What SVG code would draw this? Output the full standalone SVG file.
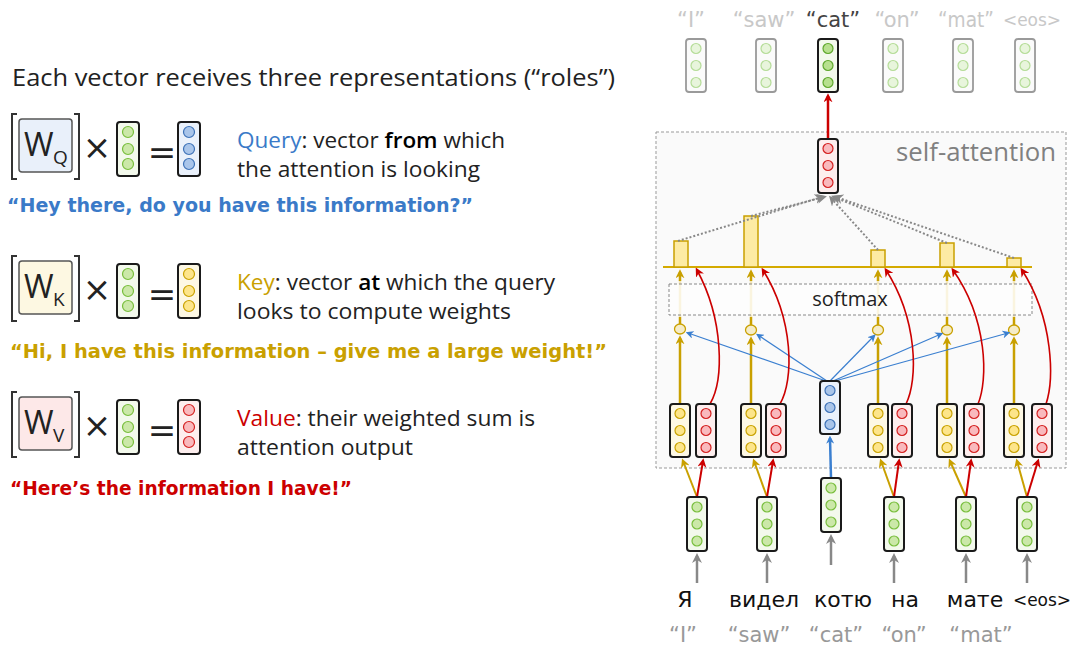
<svg xmlns="http://www.w3.org/2000/svg" width="1080" height="652" viewBox="0 0 1080 652">
<style>
.v rect{stroke:#1a1a1a;stroke-width:2}
.g rect{fill:#f3f9ec}.g circle{fill:#cbe8a8;stroke:#78be3c;stroke-width:1.2}
.y rect{fill:#fdf8e4}.y circle{fill:#fde58a;stroke:#c9a200;stroke-width:1.2}
.r rect{fill:#fdeeee}.r circle{fill:#f9b9bd;stroke:#d42020;stroke-width:1.2}
.b rect{fill:#eaf1fb}.b circle{fill:#a9c5ea;stroke:#3d72b8;stroke-width:1.2}
.f rect{stroke:#9a9a9a;stroke-width:1.8;fill:#fbfbfb}.f circle{fill:#e8f5dc;stroke:#b5dd98;stroke-width:1.2}
.c circle{fill:#b7e08e;stroke:#5fa82c;stroke-width:1.2}
.sans{font-family:"Open Sans","Noto Sans","DejaVu Sans",sans-serif}
.comic{font-family:"DejaVu Sans","Noto Sans",sans-serif}
.txt{font-size:22px;fill:#222}
.op{font-family:"DejaVu Sans","Noto Sans",sans-serif;fill:#222;text-anchor:middle}
.wbox{stroke:#555;stroke-width:1.5}
.brk{fill:none;stroke:#333;stroke-width:2}
.gold{stroke:#c9a000;fill:none}
.red{stroke:#cc0000;fill:none}
.blue{stroke:#3a7fd0;fill:none}
.gray{stroke:#888;fill:none}
</style>
<defs>
<marker id="aG" viewBox="0 0 10 10" refX="7" refY="5" markerWidth="9" markerHeight="9" markerUnits="userSpaceOnUse" orient="auto"><path d="M0,0 L10,5 L0,10 L3,5 z" fill="#c9a000"/></marker>
<marker id="aR" viewBox="0 0 10 10" refX="7" refY="5" markerWidth="9" markerHeight="9" markerUnits="userSpaceOnUse" orient="auto"><path d="M0,0 L10,5 L0,10 L3,5 z" fill="#cc0000"/></marker>
<marker id="aB" viewBox="0 0 10 10" refX="7" refY="5" markerWidth="8" markerHeight="8" markerUnits="userSpaceOnUse" orient="auto"><path d="M0,0 L10,5 L0,10 L3,5 z" fill="#3a7fd0"/></marker>
<marker id="aK" viewBox="0 0 10 10" refX="7" refY="5" markerWidth="10" markerHeight="10" markerUnits="userSpaceOnUse" orient="auto"><path d="M0,0 L10,5 L0,10 L3,5 z" fill="#888"/></marker>
</defs>
<rect width="1080" height="652" fill="#fff"/>

<!-- Left side -->
<g id="title"><text x="12" y="86" class="sans" font-size="24" fill="#222" textLength="603" lengthAdjust="spacingAndGlyphs">Each vector receives three representations (“roles”)</text></g>

<g id="row-query">
<polyline class="brk" points="17,114 12,114 12,179 17,179"/>
<polyline class="brk" points="74,114 79,114 79,179 74,179"/>
<rect class="wbox" x="19" y="119" width="53" height="53" rx="3" fill="#e9f0fa"/>
<text x="24" y="156" class="sans" font-size="32" fill="#222">W</text>
<text x="53" y="164" class="sans" font-size="19" fill="#222">Q</text>
<text x="97" y="159" class="op" font-size="34">×</text>
<g class="v g"><rect x="117" y="122" width="22" height="54" rx="3"/><circle cx="128" cy="132" r="5.5"/><circle cx="128" cy="149" r="5.5"/><circle cx="128" cy="164" r="5.5"/></g>
<text x="162" y="164" class="op" font-size="34">=</text>
<g class="v b"><rect x="178" y="122" width="22" height="54" rx="3"/><circle cx="189" cy="132" r="5.5"/><circle cx="189" cy="149" r="5.5"/><circle cx="189" cy="164" r="5.5"/></g>
<text x="237" y="148" class="sans txt" textLength="268" lengthAdjust="spacingAndGlyphs"><tspan fill="#3a7ac8">Query</tspan>: vector <tspan font-weight="600" fill="#000">from</tspan> which</text>
<text x="237" y="177" class="sans txt" textLength="243" lengthAdjust="spacingAndGlyphs">the attention is looking</text>
<text x="7" y="212" class="comic" font-size="20" font-weight="bold" fill="#3a7ac8" textLength="466" lengthAdjust="spacingAndGlyphs">“Hey there, do you have this information?”</text>
</g>

<g id="row-key">
<polyline class="brk" points="17,256 12,256 12,321 17,321"/>
<polyline class="brk" points="74,256 79,256 79,321 74,321"/>
<rect class="wbox" x="19" y="261" width="53" height="53" rx="3" fill="#fdf8e2"/>
<text x="24" y="298" class="sans" font-size="32" fill="#222">W</text>
<text x="53" y="306" class="sans" font-size="19" fill="#222">K</text>
<text x="97" y="301" class="op" font-size="34">×</text>
<g class="v g"><rect x="117" y="264" width="22" height="54" rx="3"/><circle cx="128" cy="274" r="5.5"/><circle cx="128" cy="291" r="5.5"/><circle cx="128" cy="306" r="5.5"/></g>
<text x="162" y="306" class="op" font-size="34">=</text>
<g class="v y"><rect x="178" y="264" width="22" height="54" rx="3"/><circle cx="189" cy="274" r="5.5"/><circle cx="189" cy="291" r="5.5"/><circle cx="189" cy="306" r="5.5"/></g>
<text x="237" y="290" class="sans txt" textLength="318" lengthAdjust="spacingAndGlyphs"><tspan fill="#c9a000">Key</tspan>: vector <tspan font-weight="600" fill="#000">at</tspan> which the query</text>
<text x="237" y="319" class="sans txt" textLength="274" lengthAdjust="spacingAndGlyphs">looks to compute weights</text>
<text x="10" y="358" class="comic" font-size="20" font-weight="bold" fill="#c9a000" textLength="597" lengthAdjust="spacingAndGlyphs">“Hi, I have this information – give me a large weight!”</text>
</g>

<g id="row-value">
<polyline class="brk" points="17,392 12,392 12,457 17,457"/>
<polyline class="brk" points="74,392 79,392 79,457 74,457"/>
<rect class="wbox" x="19" y="397" width="53" height="53" rx="3" fill="#fde8e8"/>
<text x="24" y="434" class="sans" font-size="32" fill="#222">W</text>
<text x="53" y="442" class="sans" font-size="19" fill="#222">V</text>
<text x="97" y="437" class="op" font-size="34">×</text>
<g class="v g"><rect x="117" y="400" width="22" height="54" rx="3"/><circle cx="128" cy="410" r="5.5"/><circle cx="128" cy="427" r="5.5"/><circle cx="128" cy="442" r="5.5"/></g>
<text x="162" y="442" class="op" font-size="34">=</text>
<g class="v r"><rect x="178" y="400" width="22" height="54" rx="3"/><circle cx="189" cy="410" r="5.5"/><circle cx="189" cy="427" r="5.5"/><circle cx="189" cy="442" r="5.5"/></g>
<text x="237" y="426" class="sans txt" textLength="298" lengthAdjust="spacingAndGlyphs"><tspan fill="#cc0000">Value</tspan>: their weighted sum is</text>
<text x="237" y="455" class="sans txt" textLength="176" lengthAdjust="spacingAndGlyphs">attention output</text>
<text x="10" y="495" class="comic" font-size="20" font-weight="bold" fill="#cc0000" textLength="342" lengthAdjust="spacingAndGlyphs">“Here’s the information I have!”</text>
</g>

<!-- Right side -->
<g id="self-attention">
<rect x="656" y="132" width="410" height="336" fill="#fafafa" stroke="#999" stroke-width="1" stroke-dasharray="3,2"/>
<text x="1056" y="161" class="sans" font-size="25" fill="#808080" text-anchor="end" textLength="160" lengthAdjust="spacingAndGlyphs">self-attention</text>
</g>

<g id="top-labels" class="comic" font-size="21" text-anchor="middle">
<text x="691" y="27" fill="#c8c8c8">“I”</text>
<text x="764" y="27" fill="#c8c8c8">“saw”</text>
<text x="833" y="27" fill="#444">“cat”</text>
<text x="897" y="27" fill="#c8c8c8">“on”</text>
<text x="966" y="27" fill="#c8c8c8" textLength="56" lengthAdjust="spacingAndGlyphs">“mat”</text>
<text x="1032" y="26" fill="#c8c8c8" font-size="17">&lt;eos&gt;</text>
</g>

<g id="outputs">
<g id="out1" class="f"><rect x="686" y="39" width="20" height="53" rx="3"/><circle cx="696" cy="48.5" r="5"/><circle cx="696" cy="65.5" r="5"/><circle cx="696" cy="82.5" r="5"/></g>
<g id="out2" class="f"><rect x="756" y="39" width="20" height="53" rx="3"/><circle cx="766" cy="48.5" r="5"/><circle cx="766" cy="65.5" r="5"/><circle cx="766" cy="82.5" r="5"/></g>
<g id="out3" class="v g c"><rect x="818" y="39" width="20" height="53" rx="3"/><circle cx="828" cy="48.5" r="5"/><circle cx="828" cy="65.5" r="5"/><circle cx="828" cy="82.5" r="5"/></g>
<g id="out4" class="f"><rect x="883" y="39" width="20" height="53" rx="3"/><circle cx="893" cy="48.5" r="5"/><circle cx="893" cy="65.5" r="5"/><circle cx="893" cy="82.5" r="5"/></g>
<g id="out5" class="f"><rect x="953" y="39" width="20" height="53" rx="3"/><circle cx="963" cy="48.5" r="5"/><circle cx="963" cy="65.5" r="5"/><circle cx="963" cy="82.5" r="5"/></g>
<g id="out6" class="f"><rect x="1015" y="39" width="20" height="53" rx="3"/><circle cx="1025" cy="48.5" r="5"/><circle cx="1025" cy="65.5" r="5"/><circle cx="1025" cy="82.5" r="5"/></g>
</g>

<g id="weights">
<line x1="663" y1="267" x2="1032" y2="267" stroke="#d4aa00" stroke-width="2"/>
<g fill="#fdeba4" stroke="#c9a000" stroke-width="1.5">
<rect id="bar1" x="674" y="241" width="14" height="26"/>
<rect id="bar2" x="744" y="216" width="14" height="51"/>
<rect id="bar3" x="871" y="250" width="14" height="17"/>
<rect id="bar4" x="940" y="243" width="14" height="24"/>
<rect id="bar5" x="1007" y="258" width="14" height="9"/>
</g>
</g>

<g id="dots" fill="#f5ecc8" stroke="#c9a000" stroke-width="1.3">
<ellipse id="dot1" cx="680" cy="329" rx="5.5" ry="5"/>
<ellipse id="dot2" cx="751" cy="330" rx="5.5" ry="5"/>
<ellipse id="dot3" cx="878" cy="330" rx="5.5" ry="5"/>
<ellipse id="dot4" cx="947" cy="330" rx="5.5" ry="5"/>
<ellipse id="dot5" cx="1014" cy="330" rx="5.5" ry="5"/>
</g>

<g id="connectors">
<g class="gray" stroke-width="2.5" marker-end="url(#aK)">
<line x1="697" y1="583" x2="697" y2="556"/>
<line x1="767" y1="583" x2="767" y2="556"/>
<line x1="831" y1="565" x2="831" y2="537"/>
<line x1="894" y1="583" x2="894" y2="556"/>
<line x1="966" y1="583" x2="966" y2="556"/>
<line x1="1027" y1="583" x2="1027" y2="556"/>
</g>
<g class="gold" stroke-width="2" marker-end="url(#aG)">
<line x1="697" y1="497" x2="683" y2="461"/>
<line x1="767" y1="497" x2="754" y2="461"/>
<line x1="894" y1="497" x2="881" y2="461"/>
<line x1="966" y1="497" x2="950" y2="461"/>
<line x1="1027" y1="497" x2="1017" y2="461"/>
</g>
<g class="red" stroke-width="2" marker-end="url(#aR)">
<line x1="697" y1="497" x2="703" y2="461"/>
<line x1="767" y1="497" x2="773" y2="461"/>
<line x1="894" y1="497" x2="899" y2="461"/>
<line x1="966" y1="497" x2="971" y2="461"/>
<line x1="1027" y1="497" x2="1038" y2="461"/>
</g>
<line class="blue" x1="831" y1="478" x2="830" y2="438" stroke-width="2.5" marker-end="url(#aB)"/>
<g class="gold" stroke-width="2.5" marker-end="url(#aG)">
<line x1="680" y1="404" x2="680" y2="338"/>
<line x1="751" y1="404" x2="751" y2="339"/>
<line x1="878" y1="404" x2="878" y2="339"/>
<line x1="947" y1="404" x2="947" y2="339"/>
<line x1="1014" y1="404" x2="1014" y2="339"/>
</g>
<g class="blue" stroke-width="1.2" marker-end="url(#aB)">
<line x1="826" y1="381" x2="688" y2="333"/>
<line x1="827" y1="381" x2="758" y2="335"/>
<line x1="830" y1="381" x2="874" y2="336"/>
<line x1="833" y1="381" x2="941" y2="334"/>
<line x1="835" y1="381" x2="1008" y2="333"/>
</g>
<g class="gold" stroke-width="2.5">
<line x1="680" y1="324" x2="680" y2="317"/>
<line x1="751" y1="325" x2="751" y2="317"/>
<line x1="878" y1="325" x2="878" y2="317"/>
<line x1="947" y1="325" x2="947" y2="317"/>
<line x1="1014" y1="325" x2="1014" y2="317"/>
</g>
<g stroke="#f3e6b8" stroke-width="2.5">
<line x1="680" y1="317" x2="680" y2="280"/>
<line x1="751" y1="317" x2="751" y2="280"/>
<line x1="878" y1="317" x2="878" y2="280"/>
<line x1="947" y1="317" x2="947" y2="280"/>
<line x1="1014" y1="317" x2="1014" y2="280"/>
</g>
<g id="softmax">
<rect x="669" y="284" width="363" height="31" fill="#fff" fill-opacity="0.55" stroke="#888" stroke-width="1" stroke-dasharray="3,2"/>
<text x="850" y="306" class="sans" font-size="20" fill="#222" text-anchor="middle">softmax</text>
</g>
<g class="gold" stroke-width="2.5" marker-end="url(#aG)">
<line x1="680" y1="281" x2="680" y2="272"/>
<line x1="751" y1="281" x2="751" y2="272"/>
<line x1="878" y1="281" x2="878" y2="272"/>
<line x1="947" y1="281" x2="947" y2="272"/>
<line x1="1014" y1="281" x2="1014" y2="272"/>
</g>
<g class="red" stroke-width="1.6" marker-end="url(#aR)">
<path d="M710,404 C724,380 724,320 697,270"/>
<path d="M780,404 C794,380 794,320 763,270"/>
<path d="M906,404 C918,380 918,320 886,270"/>
<path d="M978,404 C988,380 988,320 953,270"/>
<path d="M1046,404 C1054,380 1054,320 1022,270"/>
</g>
<g stroke="#888" stroke-width="2" stroke-dasharray="2,2" fill="none" marker-end="url(#aK)">
<line x1="678" y1="241" x2="822" y2="197"/>
<line x1="751" y1="216" x2="824" y2="197"/>
<line x1="878" y1="250" x2="831" y2="198"/>
<line x1="947" y1="243" x2="834" y2="197"/>
<line x1="1014" y1="258" x2="836" y2="197"/>
</g>
<line class="red" x1="828" y1="139" x2="828" y2="96" stroke-width="2.5" marker-end="url(#aR)"/>
</g>

<g id="wsum" class="v r"><rect x="818" y="139" width="20" height="54" rx="3"/><circle cx="828" cy="148.5" r="5"/><circle cx="828" cy="165.5" r="5"/><circle cx="828" cy="182.5" r="5"/></g>

<g id="query"><g class="v b"><rect x="820" y="381" width="20" height="53" rx="3"/><circle cx="830" cy="390.5" r="5"/><circle cx="830" cy="407.5" r="5"/><circle cx="830" cy="424.5" r="5"/></g></g>

<g id="keys">
<g id="k1" class="v y"><rect x="670" y="404" width="20" height="53" rx="3"/><circle cx="680" cy="413.5" r="5"/><circle cx="680" cy="430.5" r="5"/><circle cx="680" cy="447.5" r="5"/></g>
<g id="k2" class="v y"><rect x="741" y="404" width="20" height="53" rx="3"/><circle cx="751" cy="413.5" r="5"/><circle cx="751" cy="430.5" r="5"/><circle cx="751" cy="447.5" r="5"/></g>
<g id="k3" class="v y"><rect x="868" y="404" width="20" height="53" rx="3"/><circle cx="878" cy="413.5" r="5"/><circle cx="878" cy="430.5" r="5"/><circle cx="878" cy="447.5" r="5"/></g>
<g id="k4" class="v y"><rect x="937" y="404" width="20" height="53" rx="3"/><circle cx="947" cy="413.5" r="5"/><circle cx="947" cy="430.5" r="5"/><circle cx="947" cy="447.5" r="5"/></g>
<g id="k5" class="v y"><rect x="1004" y="404" width="20" height="53" rx="3"/><circle cx="1014" cy="413.5" r="5"/><circle cx="1014" cy="430.5" r="5"/><circle cx="1014" cy="447.5" r="5"/></g>
</g>
<g id="values">
<g id="v1" class="v r"><rect x="696" y="404" width="20" height="53" rx="3"/><circle cx="706" cy="413.5" r="5"/><circle cx="706" cy="430.5" r="5"/><circle cx="706" cy="447.5" r="5"/></g>
<g id="v2" class="v r"><rect x="766" y="404" width="20" height="53" rx="3"/><circle cx="776" cy="413.5" r="5"/><circle cx="776" cy="430.5" r="5"/><circle cx="776" cy="447.5" r="5"/></g>
<g id="v3" class="v r"><rect x="892" y="404" width="20" height="53" rx="3"/><circle cx="902" cy="413.5" r="5"/><circle cx="902" cy="430.5" r="5"/><circle cx="902" cy="447.5" r="5"/></g>
<g id="v4" class="v r"><rect x="964" y="404" width="20" height="53" rx="3"/><circle cx="974" cy="413.5" r="5"/><circle cx="974" cy="430.5" r="5"/><circle cx="974" cy="447.5" r="5"/></g>
<g id="v5" class="v r"><rect x="1032" y="404" width="20" height="53" rx="3"/><circle cx="1042" cy="413.5" r="5"/><circle cx="1042" cy="430.5" r="5"/><circle cx="1042" cy="447.5" r="5"/></g>
</g>

<g id="inputs">
<g id="in1" class="v g"><rect x="687" y="497" width="20" height="54" rx="3"/><circle cx="697" cy="507" r="5"/><circle cx="697" cy="524" r="5"/><circle cx="697" cy="541" r="5"/></g>
<g id="in2" class="v g"><rect x="757" y="497" width="20" height="54" rx="3"/><circle cx="767" cy="507" r="5"/><circle cx="767" cy="524" r="5"/><circle cx="767" cy="541" r="5"/></g>
<g id="in3" class="v g"><rect x="821" y="478" width="20" height="54" rx="3"/><circle cx="831" cy="488" r="5"/><circle cx="831" cy="505" r="5"/><circle cx="831" cy="522" r="5"/></g>
<g id="in4" class="v g"><rect x="884" y="497" width="20" height="54" rx="3"/><circle cx="894" cy="507" r="5"/><circle cx="894" cy="524" r="5"/><circle cx="894" cy="541" r="5"/></g>
<g id="in5" class="v g"><rect x="956" y="497" width="20" height="54" rx="3"/><circle cx="966" cy="507" r="5"/><circle cx="966" cy="524" r="5"/><circle cx="966" cy="541" r="5"/></g>
<g id="in6" class="v g"><rect x="1017" y="497" width="20" height="54" rx="3"/><circle cx="1027" cy="507" r="5"/><circle cx="1027" cy="524" r="5"/><circle cx="1027" cy="541" r="5"/></g>
</g>

<g id="source-words" class="comic" font-size="22" fill="#111" text-anchor="middle">
<text x="685" y="607">Я</text>
<text x="764" y="607">видел</text>
<text x="843" y="607">котю</text>
<text x="905" y="607">на</text>
<text x="975" y="607">мате</text>
<text x="1042" y="606" font-size="17">&lt;eos&gt;</text>
</g>
<g id="translations" class="comic" font-size="21" fill="#999" text-anchor="middle">
<text x="683" y="642">“I”</text>
<text x="759" y="642">“saw”</text>
<text x="836" y="642">“cat”</text>
<text x="904" y="642">“on”</text>
<text x="981" y="642">“mat”</text>
</g>
</svg>
